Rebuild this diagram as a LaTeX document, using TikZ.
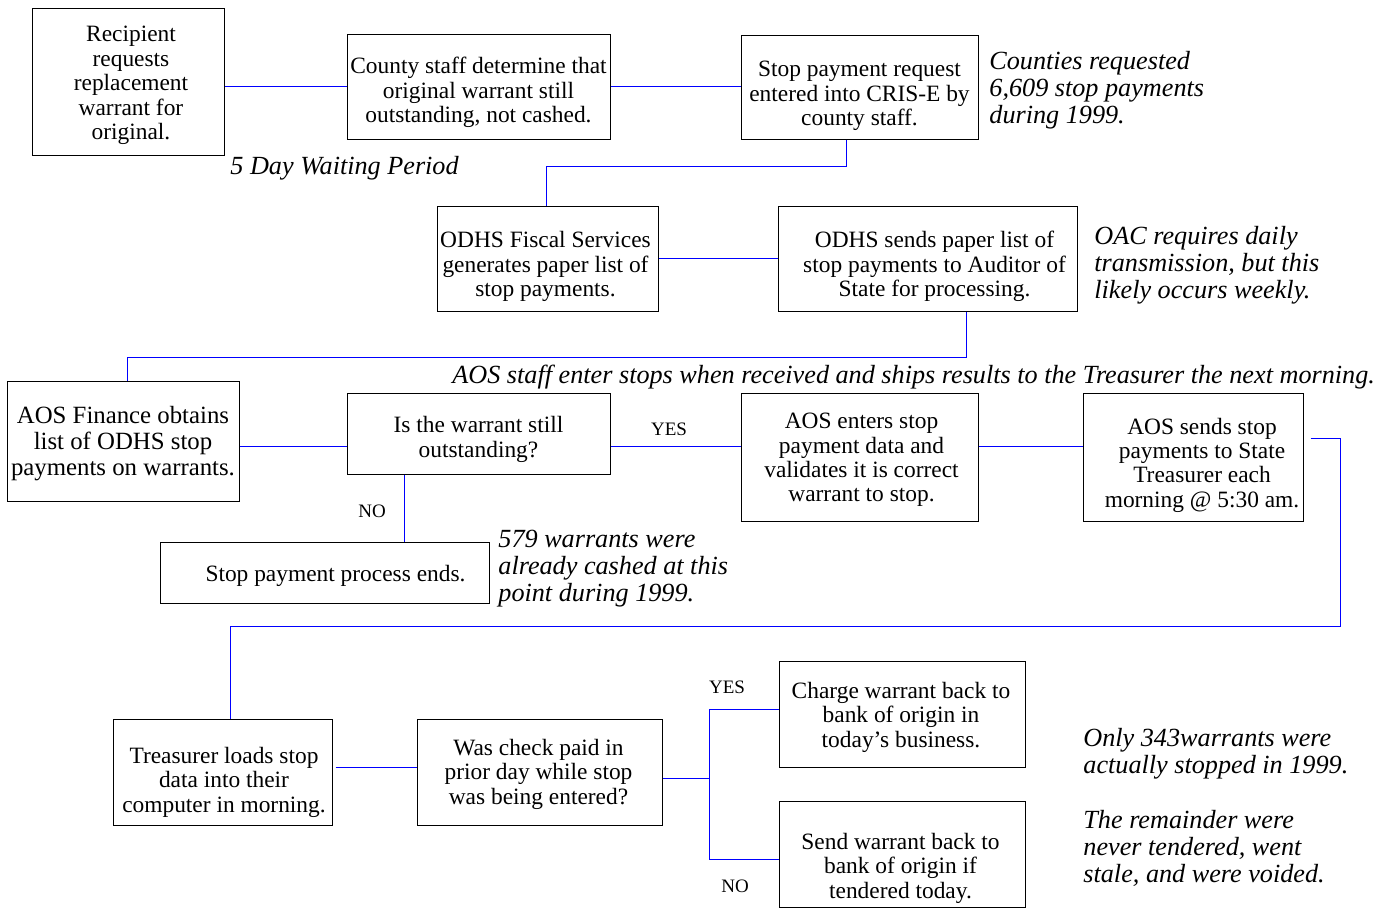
\documentclass[tikz,border=0pt]{standalone}
\usepackage{fontspec}
\setmainfont{Liberation Serif}

\tikzset{
  box/.style={draw,line width=0.5pt,inner sep=0pt},
  sz/.style 2 args={minimum width=#1*0.5pt,minimum height=#2*0.5pt},
  boxtext/.style={align=center,inner sep=0pt,font=\fontsize{11.7}{12.2}\selectfont},
  bigtext/.style={font=\fontsize{12.4}{13}\selectfont},
  txt/.style 2 args={label={[boxtext,shift={#1}]center:{#2}}},
  link/.style={draw=blue,line width=0.5pt},
  note/.style={align=left,anchor=west,inner sep=0pt,
    font=\fontsize{13.1}{13.5}\selectfont\itshape},
  lbl/.style={inner sep=0pt,font=\fontsize{9.5}{11}\selectfont}}

\begin{document}
\begin{tikzpicture}[x=0.5pt,y=-0.5pt]

      \useasboundingbox (0,0) rectangle (1391,907);

      \node[box,sz={192}{147},txt={(3,4)}{Recipient\\requests\\replacement\\warrant for\\original.}]
        (recip) at (128,81.5) {};
      \node[box,sz={263}{105},txt={(0,6)}{County staff determine that\\original warrant still\\outstanding, not cashed.}]
        (county) at (478.5,86.5) {};
      \node[box,sz={237}{104},txt={(0,9)}{Stop payment request\\entered into CRIS-E by\\county staff.}]
        (stopreq) at (859.5,87) {};
      \node[box,sz={221}{105},txt={(-2,8)}{ODHS Fiscal Services\\generates paper list of\\stop payments.}]
        (fiscal) at (547.5,258.5) {};
      \node[box,sz={299}{105},txt={(7,8)}{ODHS sends paper list of\\stop payments to Auditor of\\State for processing.}]
        (odhssend) at (927.5,258.5) {};
      \node[box,sz={232}{120},label={[boxtext,bigtext,shift={(0,3)}]center:{AOS Finance obtains\\list of ODHS stop\\payments on warrants.}}]
        (aosfin) at (123,441) {};
      \node[box,sz={263}{81},txt={(0,6)}{Is the warrant still\\outstanding?}]
        (isout) at (478.5,433.5) {};
      \node[box,sz={237}{128},txt={(2,3)}{AOS enters stop\\payment data and\\validates it is correct\\warrant to stop.}]
        (aosent) at (859.5,457) {};
      \node[box,sz={220}{128},txt={(9,8)}{AOS sends stop\\payments to State\\Treasurer each\\morning @ 5:30 am.}]
        (aossend) at (1193,457) {};
      \node[box,sz={329}{61},txt={(11,3)}{Stop payment process ends.}]
        (ends) at (324.5,572.5) {};
      \node[box,sz={219}{106},txt={(1.5,10)}{Treasurer loads stop\\data into their\\computer in morning.}]
        (treas) at (222.5,772) {};
      \node[box,sz={245}{106},txt={(-1,2)}{Was check paid in\\prior day while stop\\was being entered?}]
        (waspaid) at (539.5,772) {};
      \node[box,sz={246}{106},txt={(-1,3)}{Charge warrant back to\\bank of origin in\\today’s business.}]
        (charge) at (902,714) {};
      \node[box,sz={246}{106},txt={(-1.5,14)}{Send warrant back to\\bank of origin if\\tendered today.}]
        (sendback) at (902,854) {};

      \draw[link] (recip.east |- county.west) -- (county.west);
      \draw[link] (county.east) -- (county.east -| stopreq.west);
      \draw[link] ([shift={(-13.5,0)}]stopreq.south) -- ++(0,27) -| ([shift={(-1.5,0)}]fiscal.north);
      \draw[link] (fiscal.east) -- (odhssend.west);
      \draw[link] ([shift={(38.5,0)}]odhssend.south) -- ++(0,46)
        -| ([shift={(4,0)}]aosfin.north);
      \draw[link] ([shift={(0,5)}]aosfin.east) -- ([shift={(0,5)}]aosfin.east -| isout.west);
      \draw[link] ([shift={(0,12.5)}]isout.east) -- ([shift={(0,12.5)}]isout.east -| aosent.west);
      \draw[link] ([shift={(-74.5,0)}]isout.south) coordinate (nofork) -- (nofork |- ends.north);
      \draw[link] ([shift={(0,-11)}]aosent.east) -- ([shift={(0,-11)}]aosent.east -| aossend.west);
      \draw[link] ([shift={(7,-19)}]aossend.east) -- (1340,438) -- (1340,626)
        -| ([shift={(7.5,0)}]treas.north);
      \draw[link] ([shift={(3,-5)}]treas.east) -- ([shift={(0,-5)}]waspaid.west);
      \draw[link] ([shift={(0,6)}]waspaid.east) -- ++(47,0) coordinate (fork);
      \draw[link] (fork) |- ([shift={(0,-5)}]charge.west);
      \draw[link] (fork) |- ([shift={(0,5)}]sendback.west);

      \node[lbl] (yes1) at (669,429) {YES};
      \node[lbl] (no1) at (372,511) {NO};
      \node[lbl] (yes2) at (727,687) {YES};
      \node[lbl] (no2) at (735,886) {NO};

      \node[note] (wait) at (230,168) {5 Day Waiting Period};
      \node[note] (counties) at (989,90)
        {Counties requested\\6,609 stop payments\\during 1999.};
      \node[note] (oac) at (1094,265)
        {OAC requires daily\\transmission, but this\\likely occurs weekly.};
      \node[note] (aosnote) at (452,377)
        {AOS staff enter stops when received and ships results to the Treasurer the next morning.};
      \node[note] (cashed) at (498,569)
        {579 warrants were\\already cashed at this\\point during 1999.};
      \node[note] (only) at (1083,753.5)
        {Only 343warrants were\\actually stopped in 1999.};
      \node[note] (remain) at (1083,848)
        {The remainder were\\never tendered, went\\stale, and were voided.};
    \end{tikzpicture}
\end{document}
